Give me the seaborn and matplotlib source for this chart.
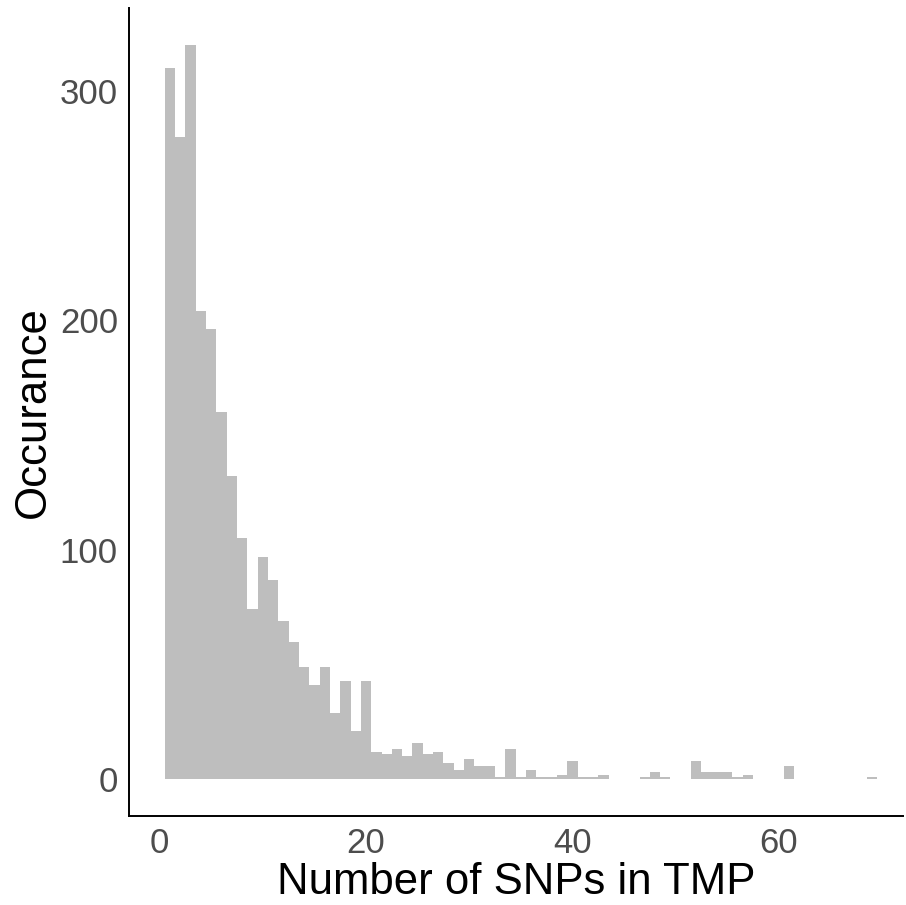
import matplotlib
matplotlib.use("Agg")
import matplotlib.pyplot as plt
import seaborn as sns
import numpy as np

# Number of SNPs per TMP and how often each count occurs
snp_counts = list(range(1, 70))
occurrences = [
    310, 280, 320, 204, 196, 160, 132, 105, 74, 97,
    87, 69, 60, 49, 41, 49, 29, 43, 21, 43,
    12, 11, 13, 10, 16, 11, 12, 7, 4, 9,
    6, 6, 1, 13, 1, 4, 1, 1, 2, 8,
    1, 1, 2, 0, 0, 0, 1, 3, 1, 0,
    0, 8, 3, 3, 3, 1, 2, 0, 0, 0,
    6, 0, 0, 0, 0, 0, 0, 0, 1,
]
x_ticks = [0, 20, 40, 60]
y_ticks = [0, 100, 200, 300]

sns.set_style("white")
plt.rcParams["font.family"] = ["Liberation Sans", "DejaVu Sans"]

fig = plt.figure(figsize=(9.06, 9.05), dpi=100)
ax = fig.add_axes([129 / 906, 89 / 905, 774 / 906, 808 / 905])

sns.histplot(
    x=snp_counts, weights=occurrences, discrete=True, ax=ax,
    color="#BEBEBE", alpha=1, edgecolor="none", linewidth=0,
)

ax.set_xlim(-2.97, 72.03)
ax.set_ylim(-16, 336)
ax.set_xticks(x_ticks)
ax.set_yticks(y_ticks)
ax.set_xticklabels([str(t) for t in x_ticks])
ax.set_yticklabels([str(t) for t in y_ticks])

for side in ("top", "right"):
    ax.spines[side].set_visible(False)
for side in ("left", "bottom"):
    ax.spines[side].set_color("black")
    ax.spines[side].set_linewidth(1.4)

ax.tick_params(axis="both", which="major", length=5, width=1.1,
               color="#333333", labelsize=25, labelcolor="#4D4D4D", pad=3)
ax.set_xlabel("Number of SNPs in TMP", fontsize=31.5, color="black", labelpad=1)
ax.set_ylabel("Occurance", fontsize=31.5, color="black", labelpad=4)

fig.savefig("out.png", dpi=100)
